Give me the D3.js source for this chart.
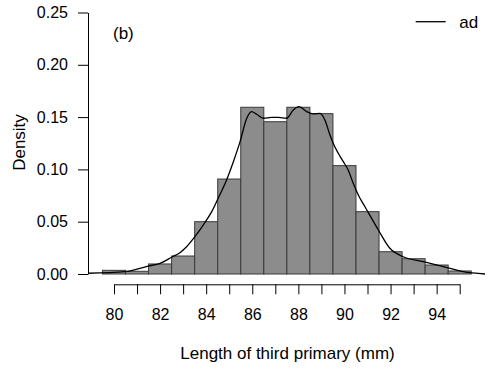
<!DOCTYPE html>
<html>
<head>
<meta charset="utf-8">
<script src="https://cdn.jsdelivr.net/npm/d3@7"></script>
<style>
  body { margin: 0; background: #fff; }
  svg { display: block; font-family: "Liberation Sans", Arial, Helvetica, sans-serif; }
</style>
</head>
<body>
<div id="chart"></div>
<script>
// histogram: bin centres (width 1 mm) and density heights
var binCentres = [80, 81, 82, 83, 84, 85, 86, 87, 88, 89, 90, 91, 92, 93, 94, 95]
var binDensity = [0.0035, 0.0026, 0.0096, 0.0172, 0.050, 0.0908, 0.1594, 0.1456,
                  0.1594, 0.1533, 0.1036, 0.0596, 0.0213, 0.0146, 0.0086, 0.0029]

// kernel density curve
var densX = [78.87, 80.48, 81.48, 82.0, 82.5, 82.86, 83.15, 83.51, 83.87, 84.24, 84.52,
             84.82, 85.18, 85.47, 85.76, 85.97, 86.19, 86.48, 86.84, 87.13, 87.49, 87.78,
             88.03, 88.36, 88.65, 88.94, 89.15, 89.37, 89.51, 89.73, 89.95, 90.16, 90.38,
             90.6, 90.89, 91.47, 91.97, 92.55, 93.42, 94.29, 95.15, 96.1]
var densY = [0.0007, 0.0022, 0.0076, 0.0102, 0.016, 0.0204, 0.0261, 0.0357, 0.0468, 0.0596, 0.0724,
             0.0865, 0.1074, 0.1265, 0.1489, 0.1552, 0.1527, 0.1489, 0.1498, 0.1498, 0.1489, 0.1568,
             0.160, 0.1552, 0.153, 0.1536, 0.1472, 0.1329, 0.125, 0.1154, 0.1074, 0.0994, 0.0867,
             0.0755, 0.0643, 0.0421, 0.0246, 0.0165, 0.0118, 0.007, 0.0022, 0.0]

var yTicks = [0, 0.05, 0.10, 0.15, 0.20, 0.25]
var xTicks = d3.range(80, 96)
var xLabelled = [80, 82, 84, 86, 88, 90, 92, 94]

var width = 490
var height = 369
var fontSize = 16 // etiquetas de los ejes
var labelSize = 17 // titulos y leyenda

var svg = d3.select('#chart').append('svg')
  .attr('width', width)
  .attr('height', height)

// escalas
var x = d3.scaleLinear().domain([80, 95]).range([114, 459.7])
var y = d3.scaleLinear().domain([0, 0.25]).range([274, 12.5])

// barras del histograma
svg.append('g')
  .selectAll('rect')
  .data(binCentres)
  .enter()
  .append('rect')
  .attr('x', (d) => x(d - 0.5))
  .attr('width', (d) => x(d + 0.5) - x(d - 0.5))
  .attr('y', (d, i) => y(binDensity[i]))
  .attr('height', (d, i) => y(0) - y(binDensity[i]))
  .attr('fill', '#8c8c8c')
  .attr('stroke', '#3a3a3a')
  .attr('stroke-width', 1)

// curva de densidad
var line = d3.line()
  .x((d) => x(d[0]))
  .y((d) => y(d[1]))
  .curve(d3.curveMonotoneX)

svg.append('path')
  .datum(d3.zip(densX, densY))
  .attr('d', line)
  .attr('fill', 'none')
  .attr('stroke', '#000')
  .attr('stroke-width', 1.3)

// eje Y
var yAxis = svg.append('g')
  .attr('transform', 'translate(88,0)')
  .call(d3.axisLeft(y).tickValues(yTicks).tickFormat(d3.format('.2f')).tickSize(10).tickSizeOuter(0).tickPadding(10))
yAxis.selectAll('text').style('font-size', fontSize + 'px').attr('fill', '#000')
yAxis.selectAll('line, path').attr('stroke', '#000')

// eje X (separado, estilo R)
var xAxis = svg.append('g')
  .attr('transform', 'translate(0,284.3)')
  .call(d3.axisBottom(x).tickValues(xTicks)
    .tickFormat((d) => (xLabelled.indexOf(d) >= 0 ? d : ''))
    .tickSize(10).tickSizeOuter(0).tickPadding(14))
xAxis.selectAll('text').style('font-size', fontSize + 'px').attr('fill', '#000')
xAxis.selectAll('line, path').attr('stroke', '#000')

// titulos
svg.append('text')
  .attr('x', 287.5)
  .attr('y', 358.5)
  .attr('text-anchor', 'middle')
  .style('font-size', labelSize + 'px')
  .text('Length of third primary (mm)')

svg.append('text')
  .attr('transform', 'translate(25,142.5) rotate(-90)')
  .attr('text-anchor', 'middle')
  .style('font-size', labelSize + 'px')
  .text('Density')

svg.append('text')
  .attr('x', 113)
  .attr('y', 38.5)
  .style('font-size', labelSize + 'px')
  .text('(b)')

// leyenda
svg.append('line')
  .attr('x1', 415.7)
  .attr('x2', 445.7)
  .attr('y1', 21.7)
  .attr('y2', 21.7)
  .attr('stroke', '#000')
  .attr('stroke-width', 1.3)

svg.append('text')
  .attr('x', 459.3)
  .attr('y', 28.3)
  .style('font-size', labelSize + 'px')
  .text('ad')
</script>
</body>
</html>
